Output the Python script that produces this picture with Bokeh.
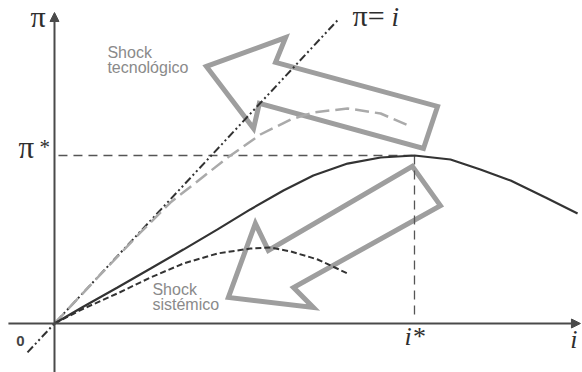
from bokeh.plotting import figure
from bokeh.models import Range1d, Arrow, NormalHead
from bokeh.core.properties import value
from bokeh.embed import file_html
from bokeh.resources import INLINE

# ---- data (units: i* = 1, pi* = 1) ----
i_star = 1.0
pi_star = 1.0

base_x = [0.000, 0.081, 0.175, 0.267, 0.358, 0.453, 0.544, 0.636, 0.719, 0.814, 0.906, 1.000, 1.100, 1.183, 1.267, 1.364, 1.453]
base_y = [0.000, 0.101, 0.214, 0.327, 0.440, 0.560, 0.679, 0.792, 0.881, 0.952, 0.988, 1.000, 0.976, 0.917, 0.851, 0.750, 0.655]

tech_x = [0.000, 0.128, 0.239, 0.322, 0.414, 0.481, 0.572, 0.656, 0.719, 0.814, 0.906, 0.989]
tech_y = [0.000, 0.292, 0.542, 0.720, 0.875, 0.988, 1.125, 1.214, 1.256, 1.280, 1.250, 1.173]

sys_x = [0.000, 0.081, 0.175, 0.267, 0.358, 0.453, 0.544, 0.600, 0.656, 0.731, 0.814]
sys_y = [0.000, 0.089, 0.179, 0.274, 0.357, 0.417, 0.446, 0.452, 0.429, 0.381, 0.298]

diag_x = [-0.075, 0.786]
diag_y = [-0.172, 1.804]

arrow_up_x = [0.422, 0.642, 0.614, 1.064, 1.025, 0.569, 0.553]
arrow_up_y = [1.530, 1.702, 1.554, 1.292, 1.042, 1.310, 1.161]

arrow_dn_x = [0.483, 0.558, 0.594, 0.994, 1.072, 0.664, 0.719]
arrow_dn_y = [0.155, 0.595, 0.435, 0.935, 0.702, 0.214, 0.095]

label_tech = ["Shock", "tecnológico"]
label_sys = ["Shock", "sistémico"]

X0, X1 = -0.1500, 1.4667
Y0, Y1 = -0.2917, 1.9226

p = figure(width=582, height=372, output_backend="svg", toolbar_location=None,
           x_range=Range1d(X0, X1), y_range=Range1d(Y0, Y1), min_border=0)
p.xaxis.visible = False
p.yaxis.visible = False
p.grid.visible = False
p.outline_line_color = None
p.background_fill_color = "white"
p.border_fill_color = "white"

# hollow block arrows
p.patch(arrow_up_x, arrow_up_y, fill_alpha=0, line_color="#9e9e9e", line_width=5, line_join="miter")
p.patch(arrow_dn_x, arrow_dn_y, fill_alpha=0, line_color="#9e9e9e", line_width=5, line_join="miter")

# guide lines
p.line([0.011, i_star], [pi_star, pi_star], line_color="#555555", line_width=1.3, line_dash="9 6")
p.line([i_star, i_star], [pi_star, 0.036], line_color="#555555", line_width=1.3, line_dash="9 6")

# axes
axc = "#4a4a4a"
p.add_layout(Arrow(end=NormalHead(size=9, fill_color=axc, line_color=axc),
                   x_start=0, y_start=Y0 - 0.05, x_end=0, y_end=1.851,
                   line_color=axc, line_width=2))
p.add_layout(Arrow(end=NormalHead(size=9, fill_color=axc, line_color=axc),
                   x_start=-0.128, y_start=0, x_end=1.461, y_end=0,
                   line_color=axc, line_width=2))

# curves
p.line(diag_x, diag_y, line_color="#333333", line_width=2, line_dash="8 3 2 3 2 3")
p.line(tech_x, tech_y, line_color="#aaaaaa", line_width=2.5, line_dash="14 6")
p.line(sys_x, sys_y, line_color="#333333", line_width=2, line_dash="6 3")
p.line(base_x, base_y, line_color="#333333", line_width=2.2)

serif = value("Liberation Serif")
tc = "#2e2e2e"
p.text(x=[-0.0667], y=[1.732], text=["π"], text_font=serif, text_font_size="30px", text_color=tc)
p.text(x=[-0.100], y=[0.946], text=["π"], text_font=serif, text_font_size="31px", text_color=tc)
p.text(x=[-0.0417], y=[0.982], text=["*"], text_font=serif, text_font_size="21px", text_color=tc)
p.text(x=[0.828], y=[1.738], text=["π="], text_font=serif, text_font_size="30px", text_color=tc)
p.text(x=[0.936], y=[1.738], text=["i"], text_font=serif, text_font_size="27px", text_font_style="italic", text_color=tc)
p.text(x=[0.972], y=[-0.161], text=["i*"], text_font=serif, text_font_size="26px", text_font_style="italic", text_color=tc)
p.text(x=[1.433], y=[-0.179], text=["i"], text_font=serif, text_font_size="26px", text_font_style="italic", text_color=tc)
p.text(x=[-0.106], y=[-0.131], text=["0"], text_font=value("Liberation Sans"), text_font_size="15px", text_font_style="bold", text_color="#444444")

sans = value("Liberation Sans")
gc = "#8a8a8a"
p.text(x=[0.147, 0.147], y=[1.560, 1.476], text=label_tech, text_font=sans, text_font_size="16px", text_color=gc)
p.text(x=[0.272, 0.272], y=[0.149, 0.060], text=label_sys, text_font=sans, text_font_size="16px", text_color=gc)

open("out.html", "w").write(file_html(p, INLINE))
